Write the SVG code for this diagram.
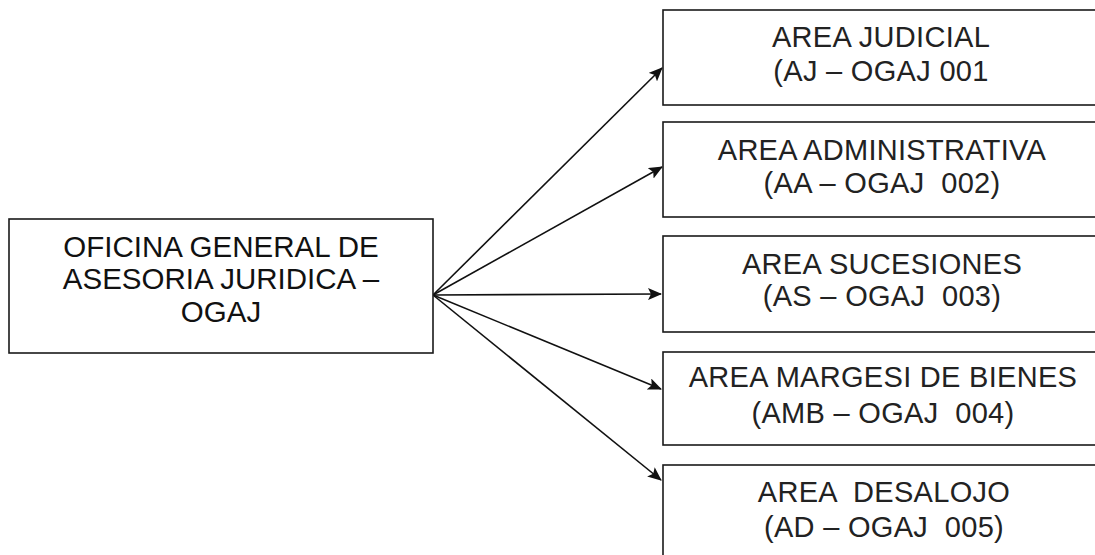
<svg xmlns="http://www.w3.org/2000/svg" width="1095" height="555" viewBox="0 0 1095 555">
<style>
.box{fill:#fff;stroke:#1a1a1a;stroke-width:1.6}
.main{font-family:"Liberation Sans",Arial,sans-serif;font-size:29.5px;fill:#111;text-anchor:middle}
.sub{font-family:"Liberation Sans",Arial,sans-serif;font-size:29px;letter-spacing:0.3px;fill:#222;text-anchor:middle;white-space:pre}
.con{stroke:#111;stroke-width:1.6;fill:none;marker-end:url(#ah)}
</style>
<defs>
<marker id="ah" viewBox="0 0 14 12" refX="13" refY="6" markerWidth="14" markerHeight="12" markerUnits="userSpaceOnUse" orient="auto">
<path d="M0,0 L14,6 L0,12 L3,6 Z" fill="#111"/>
</marker>
</defs>
<rect width="1095" height="555" fill="#fff"/>
<g id="connectors">
<line class="con" x1="433" y1="295" x2="662" y2="68"/>
<line class="con" x1="433" y1="295" x2="662" y2="167"/>
<line class="con" x1="433" y1="295" x2="661" y2="294"/>
<line class="con" x1="433" y1="295" x2="661" y2="389"/>
<line class="con" x1="433" y1="295" x2="661" y2="480"/>
</g>
<g id="ogaj">
<rect class="box" x="9" y="219" width="424" height="134"/>
<text class="main" x="221" y="257">OFICINA GENERAL DE</text>
<text class="main" x="221" y="289">ASESORIA JURIDICA –</text>
<text class="main" x="221" y="322">OGAJ</text>
</g>
<g id="aj">
<rect class="box" x="663" y="10" width="440" height="95"/>
<text class="sub" x="881" y="47">AREA JUDICIAL</text>
<text class="sub" x="881" y="81">(AJ – OGAJ 001</text>
</g>
<g id="aa">
<rect class="box" x="663" y="122" width="440" height="95"/>
<text class="sub" x="882" y="160">AREA ADMINISTRATIVA</text>
<text class="sub" x="882" y="193">(AA – OGAJ  002)</text>
</g>
<g id="as">
<rect class="box" x="663" y="236" width="440" height="96"/>
<text class="sub" x="882" y="274">AREA SUCESIONES</text>
<text class="sub" x="882" y="306">(AS – OGAJ  003)</text>
</g>
<g id="amb">
<rect class="box" x="663" y="352" width="440" height="93"/>
<text class="sub" x="883" y="387">AREA MARGESI DE BIENES</text>
<text class="sub" x="883" y="423">(AMB – OGAJ  004)</text>
</g>
<g id="ad">
<rect class="box" x="663" y="465" width="440" height="100"/>
<text class="sub" x="884" y="502">AREA  DESALOJO</text>
<text class="sub" x="884" y="537">(AD – OGAJ  005)</text>
</g>
</svg>
